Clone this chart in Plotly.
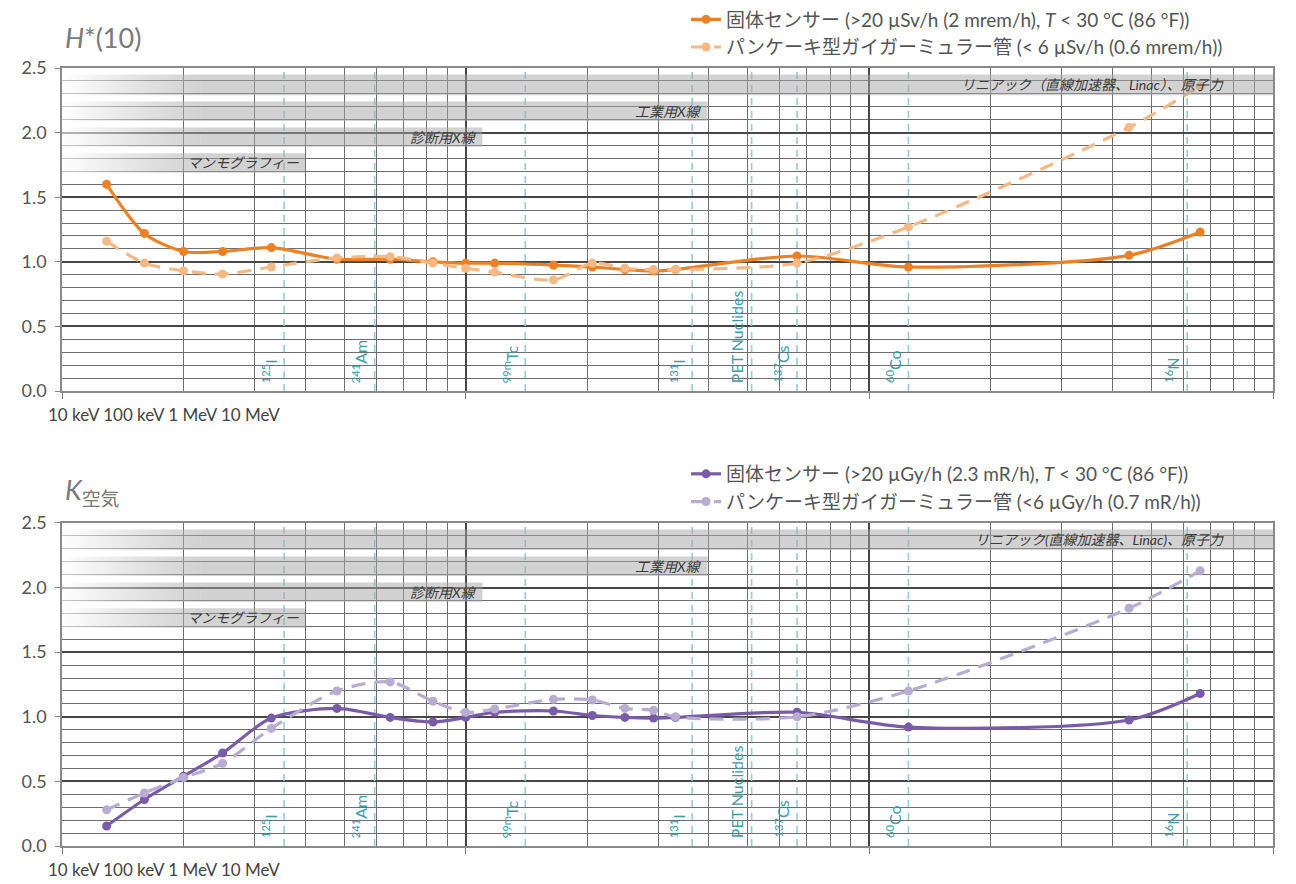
import math
import plotly.graph_objects as go

# ---------------- data ----------------
ENERGY_KEV = [12.9, 16, 20, 25, 33, 48, 65, 83, 100, 118, 165, 206, 248, 292, 331, 662, 1250, 4400, 6600]

H10_SOLID = [1.60, 1.22, 1.08, 1.08, 1.11, 1.02, 1.02, 1.00, 0.99, 0.99, 0.975, 0.96, 0.94, 0.93, 0.94, 1.045, 0.96, 1.05, 1.23]
H10_GM = [1.16, 0.99, 0.93, 0.905, 0.96, 1.03, 1.04, 0.99, 0.95, 0.92, 0.86, 0.99, 0.95, 0.94, 0.94, 0.99, 1.27, 2.04, 2.36]

KAIR_SOLID = [0.155, 0.36, 0.54, 0.72, 0.99, 1.065, 0.995, 0.96, 0.995, 1.035, 1.045, 1.01, 0.995, 0.99, 0.995, 1.035, 0.92, 0.975, 1.18]
KAIR_GM = [0.28, 0.41, 0.53, 0.64, 0.91, 1.20, 1.27, 1.12, 1.035, 1.06, 1.135, 1.13, 1.065, 1.05, 1.00, 1.00, 1.20, 1.84, 2.13]

NUCLIDE_LABELS = ["<sup>125</sup>I", "<sup>241</sup>Am", "<sup>99m</sup>Tc", "<sup>131</sup>I",
                  "PET Nuclides", "<sup>137</sup>Cs", "<sup>60</sup>Co", "<sup>16</sup>N"]
NUCLIDE_KEV = [35.5, 59.5, 140.5, 364, 511, 662, 1250, 6130]

BAND_LABELS_TOP = ["リニアック（直線加速器、Linac）、原子力", "工業用X線", "診断用X線", "マンモグラフィー"]
BAND_LABELS_BOTTOM = ["リニアック(直線加速器、Linac)、原子力", "工業用X線", "診断用X線", "マンモグラフィー"]
BAND_START_KEV = 10
BAND_FADE_END_KEV = 22
BAND_END_KEV = [10000, 397, 110, 40]
BAND_LOW = [2.29, 2.09, 1.89, 1.69]
BAND_HIGH = [2.45, 2.24, 2.04, 1.84]

X_TICK_LABELS = ["10 keV", "100 keV", "1 MeV", "10 MeV"]
Y_TICKS = [0.0, 0.5, 1.0, 1.5, 2.0, 2.5]

LEGEND_TOP = ["固体センサー (>20 µSv/h (2 mrem/h), <i>T</i> < 30 °C (86 °F))",
              "パンケーキ型ガイガーミュラー管 (< 6 µSv/h (0.6 mrem/h))"]
LEGEND_BOTTOM = ["固体センサー (>20 µGy/h (2.3 mR/h), <i>T</i> < 30 °C (86 °F))",
                 "パンケーキ型ガイガーミュラー管 (<6 µGy/h (0.7 mR/h))"]

# ---------------- style ----------------
FONT = "Lato, 'Noto Sans CJK JP', 'Noto Sans', sans-serif"
ORANGE = "#EB8127"
ORANGE_LIGHT = "#F4B985"
PURPLE = "#7A5BA8"
PURPLE_LIGHT = "#B8ACD2"
TEAL_LINE = "#93cdd7"
TEAL_TEXT = "#3f9aa8"
GRID_MAJOR = "#474747"
GRID_MINOR = "#6e6e6e"
BAND_COLOR = "rgba(165,165,165,0.5)"

fig = go.Figure()

panels = [
    dict(xa="x", ya="y", solid=H10_SOLID, gm=H10_GM, c1=ORANGE, c2=ORANGE_LIGHT,
         names=LEGEND_TOP, legend="legend", bands=BAND_LABELS_TOP),
    dict(xa="x2", ya="y2", solid=KAIR_SOLID, gm=KAIR_GM, c1=PURPLE, c2=PURPLE_LIGHT,
         names=LEGEND_BOTTOM, legend="legend2", bands=BAND_LABELS_BOTTOM),
]

for p in panels:
    # nuclide reference lines
    for e in NUCLIDE_KEV:
        fig.add_trace(go.Scatter(x=[e, e], y=[Y_TICKS[0], Y_TICKS[-1]], mode="lines",
                                 line=dict(color=TEAL_LINE, width=1.6, dash="7px,6px"),
                                 xaxis=p["xa"], yaxis=p["ya"], showlegend=False, hoverinfo="skip"))
    # data series
    fig.add_trace(go.Scatter(x=ENERGY_KEV, y=p["solid"], mode="lines+markers", name=p["names"][0],
                             line=dict(color=p["c1"], width=3.2, shape="spline", smoothing=0.8),
                             marker=dict(color=p["c1"], size=9),
                             xaxis=p["xa"], yaxis=p["ya"], legend=p["legend"]))
    fig.add_trace(go.Scatter(x=ENERGY_KEV, y=p["gm"], mode="lines+markers", name=p["names"][1],
                             line=dict(color=p["c2"], width=3.2, dash="14px,9px", shape="spline", smoothing=0.8),
                             marker=dict(color=p["c2"], size=9),
                             xaxis=p["xa"], yaxis=p["ya"], legend=p["legend"]))
    # energy range bands (drawn above the curves, semi transparent)
    for lab, end, lo, hi in zip(p["bands"], BAND_END_KEV, BAND_LOW, BAND_HIGH):
        fig.add_trace(go.Scatter(
            x=[BAND_START_KEV, BAND_FADE_END_KEV, BAND_FADE_END_KEV, BAND_START_KEV, BAND_START_KEV],
            y=[lo, lo, hi, hi, lo], mode="lines", line=dict(width=0), fill="toself",
            fillgradient=dict(type="horizontal",
                              colorscale=[[0, "rgba(255,255,255,0.6)"], [1, BAND_COLOR]]),
            xaxis=p["xa"], yaxis=p["ya"], showlegend=False, hoverinfo="skip"))
        fig.add_trace(go.Scatter(
            x=[BAND_FADE_END_KEV, end, end, BAND_FADE_END_KEV, BAND_FADE_END_KEV],
            y=[lo, lo, hi, hi, lo], mode="lines", line=dict(width=0), fill="toself",
            fillcolor=BAND_COLOR,
            xaxis=p["xa"], yaxis=p["ya"], showlegend=False, hoverinfo="skip"))
        fig.add_annotation(xref=p["xa"], yref=p["ya"], x=math.log10(end), y=(lo + hi) / 2,
                           xanchor="right", yanchor="middle", xshift=-47 if end == BAND_END_KEV[0] else -3,
                           text=f"<i>{lab}</i>", showarrow=False,
                           font=dict(family=FONT, size=14, color="#3a3a3a"))
    # nuclide labels
    for lab, e in zip(NUCLIDE_LABELS, NUCLIDE_KEV):
        fig.add_annotation(xref=p["xa"], yref=p["ya"] + " domain", x=math.log10(e), y=0,
                           xanchor="center", yanchor="bottom", xshift=-15, yshift=6,
                           textangle=-90, text=lab, showarrow=False,
                           font=dict(family=FONT, size=16, color=TEAL_TEXT))
    # x tick labels (crammed at left as in original)
    fig.add_annotation(xref=p["xa"] + " domain", yref=p["ya"] + " domain", x=0, y=0,
                       xanchor="left", yanchor="top", xshift=-16, yshift=-11,
                       text=" ".join(X_TICK_LABELS), showarrow=False,
                       font=dict(family=FONT, size=17, color="#444"))

# panel titles
fig.add_annotation(xref="paper", yref="y domain", x=0, y=1, xanchor="left", yanchor="middle",
                   xshift=1, yshift=31, text="<i>H</i>*(10)", showarrow=False,
                   font=dict(family=FONT, size=27, color="#7a7a7a"))
fig.add_annotation(xref="paper", yref="y2 domain", x=0, y=1, xanchor="left", yanchor="middle",
                   xshift=1, yshift=31, text="<i>K</i><sub>空気</sub>", showarrow=False,
                   font=dict(family=FONT, size=27, color="#7a7a7a"))

xaxis_style = dict(type="log", range=[1, 4], dtick=1, showticklabels=False,
                   ticks="outside", ticklen=6, tickcolor="#777",
                   showgrid=True, gridcolor=GRID_MAJOR, gridwidth=2,
                   minor=dict(dtick="D1", showgrid=True, gridcolor=GRID_MINOR, gridwidth=1.3),
                   showline=True, mirror=True, linecolor="#8a8a8a", linewidth=1.5,
                   zeroline=False)
yaxis_style = dict(range=[Y_TICKS[0], Y_TICKS[-1]], tickmode="array", tickvals=Y_TICKS,
                   ticktext=[f"{v:.1f}" for v in Y_TICKS],
                   ticks="outside", ticklen=5, tickcolor="#888", ticklabelstandoff=5,
                   tickfont=dict(family=FONT, size=18, color="#555"),
                   showgrid=True, gridcolor=GRID_MAJOR, gridwidth=2,
                   minor=dict(tick0=0, dtick=0.1, showgrid=True, gridcolor=GRID_MINOR, gridwidth=1.3),
                   showline=True, mirror=True, linecolor="#8a8a8a", linewidth=1.5,
                   zeroline=False)

legend_style = dict(xanchor="left", yanchor="top", x=0.5153, bgcolor="rgba(0,0,0,0)",
                    font=dict(family=FONT, size=19, color="#555"), tracegroupgap=0)

fig.update_layout(
    width=1296, height=884,
    margin=dict(l=62, r=23, t=68, b=38, autoexpand=False),
    paper_bgcolor="white", plot_bgcolor="white",
    font=dict(family=FONT),
    xaxis=dict(domain=[0, 1], anchor="y", **xaxis_style),
    yaxis=dict(domain=[0.5848, 1], anchor="x", **yaxis_style),
    xaxis2=dict(domain=[0, 1], anchor="y2", **xaxis_style),
    yaxis2=dict(domain=[0, 0.4152], anchor="x2", **yaxis_style),
    legend=dict(y=1.0868, **legend_style),
    legend2=dict(y=0.5026, **legend_style),
)

fig.write_html("out.html", config={"displayModeBar": False},
               post_script="document.body.style.margin='0';")
